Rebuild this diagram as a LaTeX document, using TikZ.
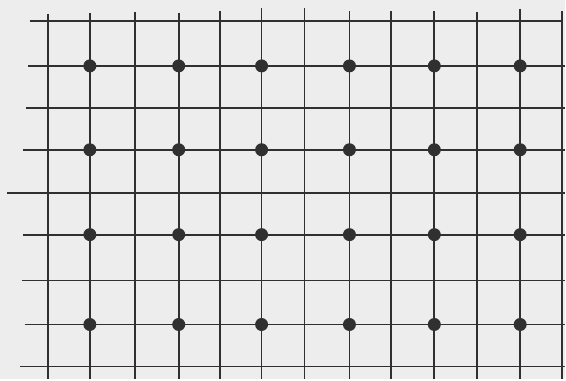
\documentclass[tikz,border=0pt]{standalone}
\definecolor{paper}{RGB}{237,237,237}
\definecolor{ink}{RGB}{48,48,48}
\newcommand{\gridpt}[2]{%
  \fill[ink] (#1,#2) circle (6.5pt);
}
\begin{document}
\begin{tikzpicture}[x=1pt, y=-1pt]
    % Paper
    \fill[paper] (0,0) rectangle (566,380);
    % Horizontal lines (y, left end, right end)
    \foreach \y/\l/\r in {21/30/563,66/28/566,108/26/566,150/23/566,193/7/566,
                          235/23/566,281/22/566,325/25/566,367/20/566} {
      \draw[ink, line width=1.8pt] (\l,\y) -- (\r,\y);
    }
    % Vertical lines (x, top end)
    \foreach \x/\t in {48/14,90/13,135/12,179/13,220/11,262/8,305/8,
                       350/11,392/11,435/11,478/12,521/9,563/11} {
      \draw[ink, line width=1.8pt] (\x,\t) -- (\x,380);
    }
    % Dots on every other crossing
    \foreach \x in {90,179,262,350,435,521} {
      \foreach \y in {66,150,235,325} {
        \gridpt{\x}{\y}
      }
    }
\end{tikzpicture}
\end{document}
